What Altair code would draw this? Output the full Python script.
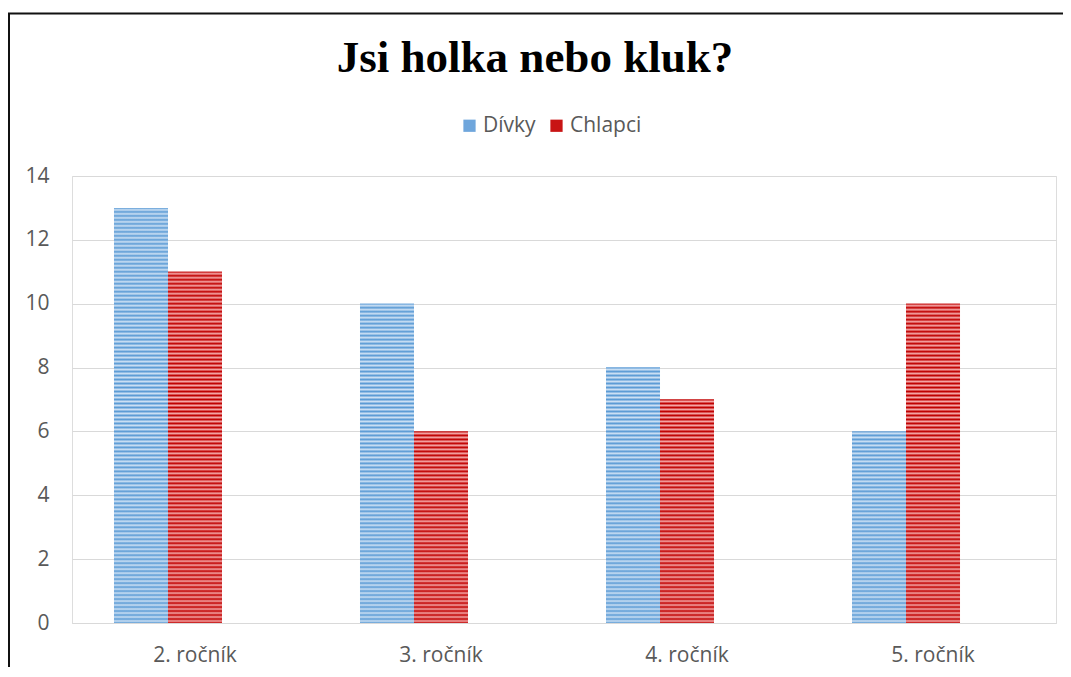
import altair as alt
import pandas as pd

categories = ["2. ročník", "3. ročník", "4. ročník", "5. ročník"]
series_names = ["Dívky", "Chlapci"]
divky = [13, 10, 8, 6]
chlapci = [11, 6, 7, 10]
y_ticks = [0, 2, 4, 6, 8, 10, 12, 14]

solid_colors = ["#6fa6dc", "#c81414"]
stripe_colors = {"Dívky": ("#5b9bd5", "#cce0f4"), "Chlapci": ("#c00000", "#f4a6a6")}

rows = []
for c, d, k in zip(categories, divky, chlapci):
    rows.append({"cat": c, "series": "Dívky", "value": d})
    rows.append({"cat": c, "series": "Chlapci", "value": k})
df = pd.DataFrame(rows)

FONT = "Open Sans"
LABEL = "#595959"
FS = 21

base = alt.Chart(df).encode(
    x=alt.X(
        "cat:N",
        sort=categories,
        scale=alt.Scale(paddingInner=0.3415, paddingOuter=0.1707),
        axis=alt.Axis(
            title=None, labelAngle=0, ticks=False, domain=True, domainColor="#d9d9d9",
            domainWidth=1, labelPadding=21, labelFont=FONT, labelFontSize=FS,
            labelColor=LABEL, grid=False,
        ),
    ),
    xOffset=alt.XOffset(
        "series:N",
        sort=series_names,
        scale=alt.Scale(domain=series_names, paddingInner=0, paddingOuter=0.5, align=0),
    ),
    y=alt.Y(
        "value:Q",
        scale=alt.Scale(domain=[0, 14]),
        axis=alt.Axis(
            title=None, values=y_ticks, ticks=False, domain=False, grid=True,
            gridColor="#d9d9d9", gridWidth=1, labelPadding=23, labelFont=FONT,
            labelFontSize=FS, labelColor=LABEL,
        ),
    ),
)

legend_layer = base.mark_bar(strokeWidth=0).encode(
    color=alt.Color(
        "series:N",
        sort=series_names,
        scale=alt.Scale(domain=series_names, range=solid_colors),
        legend=alt.Legend(
            title=None, orient="none", legendX=387, legendY=-61, direction="horizontal",
            symbolType="square", symbolSize=150, symbolStrokeWidth=0,
            labelFont=FONT, labelFontSize=FS, labelColor=LABEL, labelOffset=3,
            columnPadding=10,
        ),
    )
)

layers = [legend_layer]
STRIPES_PER_UNIT = 8
for c, d, k in zip(categories, divky, chlapci):
    for s, v in (("Dívky", d), ("Chlapci", k)):
        n = int(v * STRIPES_PER_UNIT)
        dark, light = stripe_colors[s]
        stops = []
        for i in range(n):
            stops.append(alt.GradientStop(offset=i / n, color=dark))
            stops.append(alt.GradientStop(offset=(i + 0.5) / n, color=light))
        stops.append(alt.GradientStop(offset=1, color=dark))
        grad = alt.Gradient(gradient="linear", stops=stops, x1=0, x2=0, y1=0, y2=1)
        layers.append(
            base.transform_filter(
                f"datum.cat === '{c}' && datum.series === '{s}'"
            ).mark_bar(fill=grad, strokeWidth=0)
        )

frame_data = alt.Data(values=[{}])
left_edge = alt.Chart(frame_data).mark_rule(color="#111111", strokeWidth=2).encode(
    x=alt.value(-63), y=alt.value(-162.5), y2=alt.value(520)
)
top_edge = alt.Chart(frame_data).mark_rule(color="#111111", strokeWidth=2).encode(
    x=alt.value(-64), x2=alt.value(1000), y=alt.value(-162.5)
)
layers += [left_edge, top_edge]

chart = alt.layer(*layers).properties(
    width=984,
    height=447,
    title=alt.Title(
        "Jsi holka nebo kluk?", font="Liberation Serif", fontSize=45, fontWeight="bold",
        color="black", anchor="middle", dx=-29, offset=0, dy=68,
    ),
    autosize=alt.AutoSizeParams(type="none"),
    padding={"left": 64, "top": 168, "right": 7, "bottom": 44},
).configure_view(stroke=None).configure(background="white")

chart.save("out.html", embed_options={"renderer": "svg", "actions": False})
